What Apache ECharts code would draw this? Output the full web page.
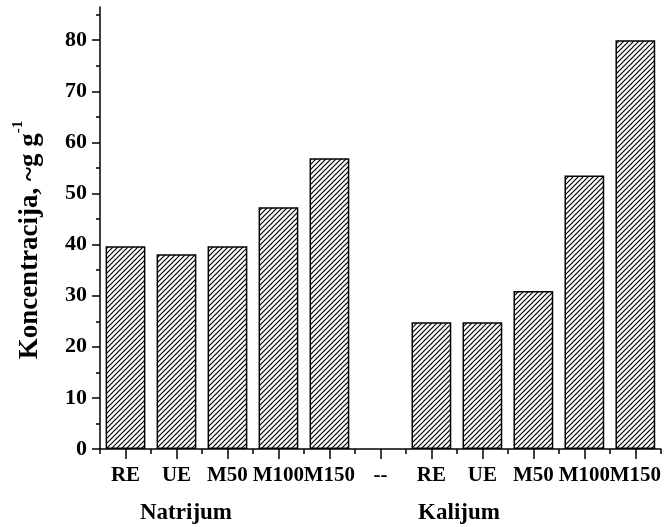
<!DOCTYPE html>
<html><head><meta charset="utf-8">
<script src="https://cdn.jsdelivr.net/npm/echarts@6/dist/echarts.min.js"></script>
<style>html,body{margin:0;padding:0;background:#fff}#c{width:664px;height:527px}</style>
</head><body><div id="c"></div>
<script>
// ---- data ----
const naCategories = ['RE', 'UE', 'M50', 'M100', 'M150'];
const kCategories = ['RE', 'UE', 'M50', 'M100', 'M150'];
const separatorCategory = '--';
const natrijumValues = [39.7, 38.1, 39.7, 47.3, 56.9];
const kalijumValues = [24.8, 24.8, 30.9, 53.5, 80.0];
const yTickValues = [0, 10, 20, 30, 40, 50, 60, 70, 80];
const yMinorTickValues = [5, 15, 25, 35, 45, 55, 65, 75, 85];
const groupLabels = ['Natrijum', 'Kalijum'];
const yAxisTitle = 'Koncentracija, ~g g';
const yAxisTitleSup = '-1';

const categories = naCategories.concat([separatorCategory], kCategories);
const values = natrijumValues.concat([null], kalijumValues);

// ---- hatch pattern ----
function makeHatch() {
  const s = 5;
  const cv = document.createElement('canvas');
  cv.width = s; cv.height = s;
  const ctx = cv.getContext('2d');
  ctx.fillStyle = '#fff';
  ctx.fillRect(0, 0, s, s);
  ctx.strokeStyle = '#000';
  ctx.lineWidth = 1.2;
  ctx.beginPath();
  ctx.moveTo(-1, s + 1); ctx.lineTo(s + 1, -1);
  ctx.moveTo(-1, 1); ctx.lineTo(1, -1);
  ctx.moveTo(s - 1, s + 1); ctx.lineTo(s + 1, s - 1);
  ctx.stroke();
  return cv;
}

const FONT = "'Liberation Serif', 'Times New Roman', serif";
const chart = echarts.init(document.getElementById('c'), null, { renderer: 'canvas' });

const option = {
  animation: false,
  backgroundColor: '#fff',
  grid: { left: 100, right: 3, top: 7, bottom: 78, containLabel: false },
  xAxis: [
    {
      type: 'category', position: 'bottom', data: categories,
      axisLine: { lineStyle: { color: '#000', width: 1.5 } },
      axisTick: { show: true, interval: 0, length: 5, lineStyle: { color: '#000', width: 1.5 } },
      axisLabel: { interval: 0, margin: 16, color: '#000', fontFamily: FONT, fontWeight: 'bold', fontSize: 21 },
      splitLine: { show: false }
    },
    {
      type: 'category', position: 'bottom', data: categories,
      axisLine: { show: false },
      axisTick: { show: true, interval: 0, alignWithLabel: true, length: 10, lineStyle: { color: '#000', width: 1.5 } },
      axisLabel: { show: false },
      splitLine: { show: false }
    }
  ],
  yAxis: [
    {
      type: 'value', position: 'left', min: 0, max: 86.5, interval: 10,
      axisLine: { show: true, lineStyle: { color: '#000', width: 1.5 } },
      axisTick: { show: true, length: 8, customValues: yTickValues, lineStyle: { color: '#000', width: 1.5 } },
      axisLabel: { customValues: yTickValues, margin: 13, color: '#000', fontFamily: FONT, fontWeight: 'bold', fontSize: 22 },
      splitLine: { show: false },
      name: '{m|' + yAxisTitle + '}{sup|' + yAxisTitleSup + '}',
      nameLocation: 'middle', nameGap: 56, nameRotate: 90,
      nameTextStyle: {
        padding: [0, 24, 0, 0],
        rich: {
          m: { fontFamily: FONT, fontWeight: 'bold', fontSize: 27, color: '#000', lineHeight: 33, verticalAlign: 'bottom' },
          sup: { fontFamily: FONT, fontWeight: 'bold', fontSize: 15, color: '#000', lineHeight: 33, verticalAlign: 'top' }
        }
      }
    },
    {
      type: 'value', position: 'left', min: 0, max: 86.5, interval: 5,
      axisLine: { show: false },
      axisTick: { show: true, length: 4, customValues: yMinorTickValues, lineStyle: { color: '#000', width: 1.5 } },
      axisLabel: { show: false },
      splitLine: { show: false }
    }
  ],
  series: [{
    type: 'bar', xAxisIndex: 0, yAxisIndex: 0,
    data: values,
    barWidth: '78%',
    itemStyle: {
      color: { image: makeHatch(), repeat: 'repeat' },
      borderColor: '#000', borderWidth: 1.5
    }
  }],
  graphic: [
    { type: 'text', x: 186, y: 513, style: { text: groupLabels[0], textAlign: 'center', textVerticalAlign: 'middle', font: "bold 23px 'Liberation Serif', 'Times New Roman', serif", fill: '#000' } },
    { type: 'text', x: 459, y: 513, style: { text: groupLabels[1], textAlign: 'center', textVerticalAlign: 'middle', font: "bold 23px 'Liberation Serif', 'Times New Roman', serif", fill: '#000' } }
  ]
};
chart.setOption(option);
</script>
</body></html>
